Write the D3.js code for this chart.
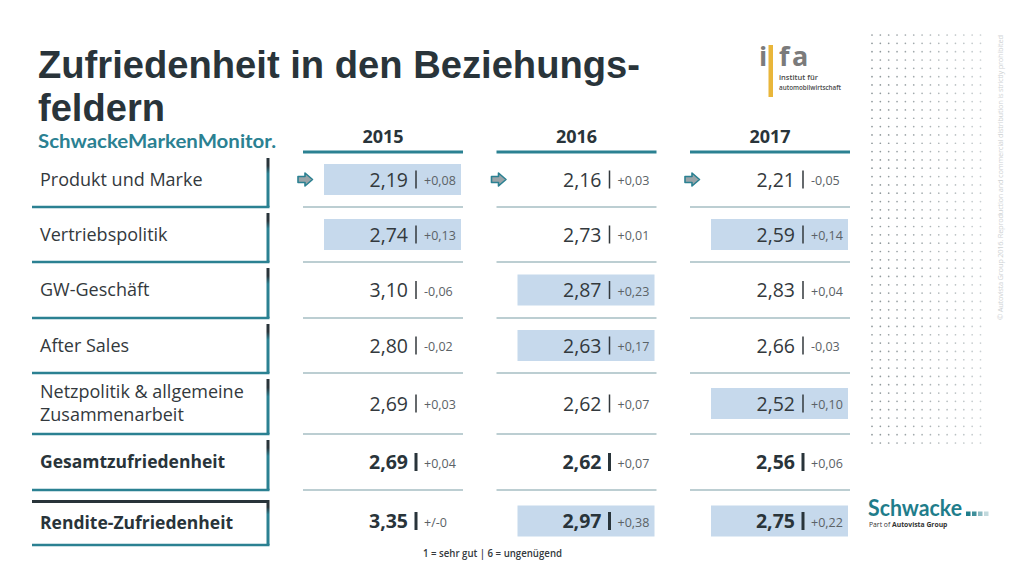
<!DOCTYPE html>
<html><head><meta charset="utf-8">
<script src="https://cdn.jsdelivr.net/npm/d3@7"></script>
<style>body{margin:0;background:#fff;} svg{display:block;}</style>
</head><body><svg id="c" width="1024" height="575"></svg>
<script>
// ---------- data ----------
const categories = ["Produkt und Marke","Vertriebspolitik","GW-Geschäft","After Sales","Netzpolitik & allgemeine Zusammenarbeit","Gesamtzufriedenheit","Rendite-Zufriedenheit"];
const labelLines = [["Produkt und Marke"],["Vertriebspolitik"],["GW-Geschäft"],["After Sales"],["Netzpolitik & allgemeine","Zusammenarbeit"],["Gesamtzufriedenheit"],["Rendite-Zufriedenheit"]];
const boldRows = [false,false,false,false,false,true,true];
const years = ["2015","2016","2017"];
const values2015 = [2.19,2.74,3.10,2.80,2.69,2.69,3.35];
const values2016 = [2.16,2.73,2.87,2.63,2.62,2.62,2.97];
const values2017 = [2.21,2.59,2.83,2.66,2.52,2.56,2.75];
const delta2015 = ["+0,08","+0,13","-0,06","-0,02","+0,03","+0,04","+/-0"];
const delta2016 = ["+0,03","+0,01","+0,23","+0,17","+0,07","+0,07","+0,38"];
const delta2017 = ["-0,05","+0,14","+0,04","-0,03","+0,10","+0,06","+0,22"];
const highlight2015 = [1,1,0,0,0,0,0];
const highlight2016 = [0,0,1,1,0,0,1];
const highlight2017 = [0,1,0,0,1,0,1];
const arrowRows = [1,0,0,0,0,0,0];
const titleLines = ["Zufriedenheit in den Beziehungs-","feldern"];
const subtitle = "SchwackeMarkenMonitor.";
const footnote = "1 = sehr gut | 6 = ungenügend";
const copyright = "© Autovista Group 2016. Reproduction and commercial distribution is strictly prohibited";

const seriesValues = [values2015, values2016, values2017];
const seriesDelta = [delta2015, delta2016, delta2017];
const seriesHighlight = [highlight2015, highlight2016, highlight2017];

// ---------- layout ----------
const svg = d3.select("#c");
const teal = "#2b8192", dark = "#29343a", textCol = "#33393d";
const FONT = "'Open Sans', 'Noto Sans', sans-serif";
const x = d3.scaleBand().domain(years).range([303, 850]).paddingInner(0.1731);
const rowTop = d3.scaleOrdinal().domain(categories).range([152,207,262,318,373,434,500]);
const rowBottom = d3.scaleOrdinal().domain(categories).range([207,262,318,373,434,490,545]);
const yc = c => (rowTop(c) + rowBottom(c)) / 2;
const fmt = v => d3.format(".2f")(v).replace(".", ",");

const defs = svg.append("defs");
const g = defs.append("linearGradient").attr("id","vgrad").attr("x1",0).attr("y1",0).attr("x2",0).attr("y2",1);
g.append("stop").attr("offset","0%").attr("stop-color",dark);
g.append("stop").attr("offset","16%").attr("stop-color",dark);
g.append("stop").attr("offset","32%").attr("stop-color",teal);
g.append("stop").attr("offset","100%").attr("stop-color",teal);

// ---------- title ----------
const titleFont = "'Liberation Sans', Arial, sans-serif";
svg.append("text").attr("x",38).attr("y",78).attr("font-family",titleFont)
  .attr("font-weight",700).attr("font-size",38).attr("fill",dark)
  .attr("textLength",602).attr("lengthAdjust","spacingAndGlyphs").text(titleLines[0]);
svg.append("text").attr("x",38).attr("y",121).attr("font-family",titleFont)
  .attr("font-weight",700).attr("font-size",38).attr("fill",dark)
  .attr("textLength",127).attr("lengthAdjust","spacingAndGlyphs").text(titleLines[1]);
svg.append("text").attr("x",38).attr("y",148).attr("font-family","Lato, 'Open Sans', sans-serif")
  .attr("font-weight",700).attr("font-size",19).attr("fill",teal)
  .attr("textLength",238).attr("lengthAdjust","spacingAndGlyphs").text(subtitle);

// ---------- year headers ----------
years.forEach(yr => {
  svg.append("text").attr("x", x(yr) + x.bandwidth()/2).attr("y",143).attr("text-anchor","middle")
    .attr("font-family",FONT).attr("font-weight",700).attr("font-size",18).attr("fill",dark).text(yr);
  svg.append("rect").attr("x", x(yr)).attr("y",150.5).attr("width", x.bandwidth()).attr("height",3).attr("fill",teal);
});

// ---------- row labels ----------
categories.forEach((c, i) => {
  const top = rowTop(c), bot = rowBottom(c);
  if (i === categories.length - 1) {
    svg.append("rect").attr("x",32).attr("y",top).attr("width",237).attr("height",3).attr("fill",dark);
    svg.append("rect").attr("x",266.5).attr("y",top).attr("width",3).attr("height",bot-top).attr("fill","url(#vgrad)");
  } else {
    svg.append("rect").attr("x",266.5).attr("y",top+6).attr("width",3).attr("height",bot-top-6).attr("fill","url(#vgrad)");
  }
  svg.append("rect").attr("x",32).attr("y",bot-1.25).attr("width",237.5).attr("height",2.5).attr("fill",teal);
  const lines = labelLines[i];
  const t = svg.append("text").attr("x",40).attr("font-family",FONT)
    .attr("font-weight", boldRows[i] ? 700 : 400).attr("font-size", boldRows[i] ? 17.5 : 18)
    .attr("fill", boldRows[i] ? dark : textCol);
  lines.forEach((ln, k) => {
    const off = (k - (lines.length - 1) / 2) * 23;
    t.append("tspan").attr("x",40).attr("y", yc(c) + off).attr("dy","0.36em").text(ln);
  });
});

// ---------- data cells ----------
years.forEach((yr, j) => {
  const x0 = x(yr), bw = x.bandwidth();
  categories.forEach((c, i) => {
    const cy = yc(c) - (i === categories.length - 1 ? 1.5 : 0);
    if (i < categories.length - 1) {
      svg.append("rect").attr("x",x0).attr("y",rowBottom(c)-0.75).attr("width",bw).attr("height",1.5).attr("fill","#a7bfc3");
    }
    if (seriesHighlight[j][i]) {
      svg.append("rect").attr("x",x0+21).attr("y",cy-15.5).attr("width",bw-23).attr("height",31).attr("fill","#c6d9ec");
    }
    if (arrowRows[i]) {
      const ax = x0 + 2, ay = cy;
      const path = `M${ax-7},${ay-3} L${ax},${ay-3} L${ax},${ay-6.5} L${ax+7.5},${ay} L${ax},${ay+6.5} L${ax},${ay+3} L${ax-7},${ay+3} Z`;
      svg.append("path").attr("d",path).attr("fill","#9aa4a8").attr("stroke",teal).attr("stroke-width",1.6).attr("stroke-linejoin","round");
    }
    const bx = x0 + 113;
    const bold = boldRows[i];
    svg.append("text").attr("x",bx-8).attr("y",cy).attr("dy","0.36em").attr("text-anchor","end")
      .attr("font-family",FONT).attr("font-weight", bold ? 700 : 400).attr("font-size",19.5)
      .attr("fill", bold ? dark : textCol).text(fmt(seriesValues[j][i]));
    svg.append("rect").attr("x", bx - (bold ? 1.5 : 0.75)).attr("y", cy - 9).attr("width", bold ? 3 : 1.5)
      .attr("height", 18).attr("fill", bold ? dark : textCol);
    svg.append("text").attr("x",bx+8).attr("y",cy+1).attr("dy","0.36em")
      .attr("font-family",FONT).attr("font-weight",400).attr("font-size",12.5)
      .attr("fill","#5b6266").text(seriesDelta[j][i]);
  });
});

// ---------- footnote ----------
svg.append("text").attr("x",423).attr("y",557).attr("font-family",FONT).attr("font-weight",600)
  .attr("font-size",11).attr("fill",textCol).attr("textLength",139).attr("lengthAdjust","spacingAndGlyphs").text(footnote);

// ---------- ifa logo ----------
const ifaFont = "'Open Sans', sans-serif";
svg.append("text").attr("x",759).attr("y",66).attr("font-family",ifaFont).attr("font-weight",700).attr("font-size",27).attr("fill","#7b7b7b").text("i");
svg.append("rect").attr("x",768.5).attr("y",45).attr("width",4.5).attr("height",52).attr("fill","#e9b63a");
svg.append("text").attr("x",779).attr("y",66).attr("font-family",ifaFont).attr("font-weight",700).attr("font-size",27).attr("fill","#7b7b7b").text("f");
svg.append("text").attr("x",792).attr("y",66).attr("font-family",ifaFont).attr("font-weight",700).attr("font-size",27).attr("fill","#7b7b7b").text("a");
svg.append("text").attr("x",779).attr("y",80).attr("font-family",ifaFont).attr("font-weight",600).attr("font-size",7.5).attr("fill","#4a4a4a").text("institut für");
svg.append("text").attr("x",779).attr("y",89.5).attr("font-family",ifaFont).attr("font-weight",600).attr("font-size",7.5).attr("fill","#4a4a4a")
  .attr("textLength",62).attr("lengthAdjust","spacingAndGlyphs").text("automobilwirtschaft");

// ---------- dot grid ----------
const dotCols = d3.range(14), dotRows = d3.range(50);
const dx = d3.scaleLinear().domain([0,13]).range([872,980.5]);
const dy = d3.scaleLinear().domain([0,49]).range([35,443]);
const dcol = d3.scaleLinear().domain([0,13]).range(["#8a9396","#c9cfd1"]);
const dg = svg.append("g");
dotRows.forEach(r => dotCols.forEach(cI => {
  dg.append("circle").attr("cx",dx(cI)).attr("cy",dy(r)).attr("r",0.85).attr("fill",dcol(cI));
}));

// ---------- copyright ----------
svg.append("text").attr("transform","translate(1003,320) rotate(-90)").attr("font-family",FONT)
  .attr("font-size",7.5).attr("fill","#cfd3d5").attr("textLength",285).attr("lengthAdjust","spacing").text(copyright);

// ---------- Schwacke logo ----------
svg.append("text").attr("x",868).attr("y",516).attr("font-family","Lato, 'Open Sans', sans-serif").attr("font-weight",700)
  .attr("font-size",23).attr("fill","#1f7d8b").attr("textLength",94).attr("lengthAdjust","spacingAndGlyphs").text("Schwacke");
const sqCol = ["#1f7d8b","#3f8f9b","#8bbac2","#c2d9dd"];
sqCol.forEach((col, k) => {
  svg.append("rect").attr("x",966 + k*6).attr("y",511.5).attr("width",4.5).attr("height",4.5).attr("fill",col);
});
const pt = svg.append("text").attr("x",869).attr("y",526.5).attr("font-family",FONT).attr("font-size",6.8).attr("fill","#333");
pt.append("tspan").text("Part of ");
pt.append("tspan").attr("font-weight",700).text("Autovista Group");
</script>
</body></html>
